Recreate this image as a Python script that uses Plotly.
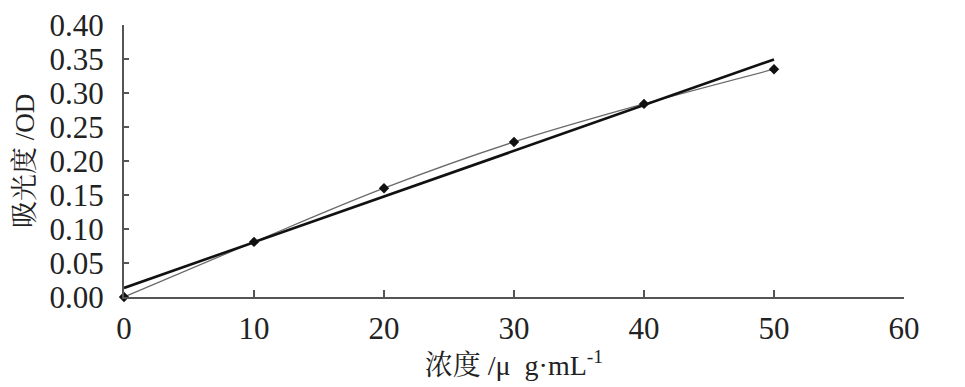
import numpy as np
import plotly.graph_objects as go

conc = [0, 10, 20, 30, 40, 50]
od = [0.000, 0.081, 0.160, 0.228, 0.284, 0.335]
x_ticks = [0, 10, 20, 30, 40, 50, 60]
y_ticks = [0.00, 0.05, 0.10, 0.15, 0.20, 0.25, 0.30, 0.35, 0.40]

slope, intercept = np.polyfit(conc, od, 1)
fit_x = [conc[0], conc[-1]]
fit_y = [slope * v + intercept for v in fit_x]

FONT = "Liberation Serif, Times New Roman, Noto Serif CJK SC, Noto Sans CJK SC, serif"

fig = go.Figure()
fig.add_trace(go.Scatter(
    x=conc, y=od, mode="lines+markers",
    line=dict(color="#6a6a6a", width=1.3, shape="spline"),
    marker=dict(symbol="diamond", size=8, color="#111111"),
    cliponaxis=False, showlegend=False,
))
fig.add_trace(go.Scatter(
    x=fit_x, y=fit_y, mode="lines",
    line=dict(color="#111111", width=2.6),
    cliponaxis=False, showlegend=False,
))

fig.update_layout(
    width=965, height=387,
    margin=dict(l=124, r=61, t=25, b=90),
    paper_bgcolor="white", plot_bgcolor="white",
    font=dict(family=FONT, color="#222222", size=31),
)
fig.update_xaxes(
    range=[0, 60], tickvals=x_ticks, ticktext=[str(v) for v in x_ticks],
    showgrid=False, zeroline=False, automargin=False,
    showline=True, linecolor="#555555", linewidth=2,
    ticks="inside", ticklen=7, tickcolor="#555555", tickwidth=1.5,
    tickfont=dict(size=31, family=FONT), ticklabelstandoff=3,
    title=dict(text="浓度 /μ\u00a0 g·mL<sup>-1</sup>", font=dict(size=28, family=FONT), standoff=2),
)
fig.update_yaxes(
    range=[0, 0.40], tickvals=y_ticks, ticktext=[f"{v:.2f}" for v in y_ticks],
    showgrid=False, zeroline=False, automargin=False,
    showline=True, linecolor="#555555", linewidth=2,
    ticks="inside", ticklen=5, tickcolor="#555555", tickwidth=1.5,
    tickfont=dict(size=31, family=FONT), ticklabelstandoff=12,
    title=dict(text="吸光度 /OD", font=dict(size=27, family=FONT), standoff=7),
)

fig.write_html(
    "out.html",
    config={"displayModeBar": False},
    post_script="document.body.style.margin='0';document.body.style.padding='0';",
)
